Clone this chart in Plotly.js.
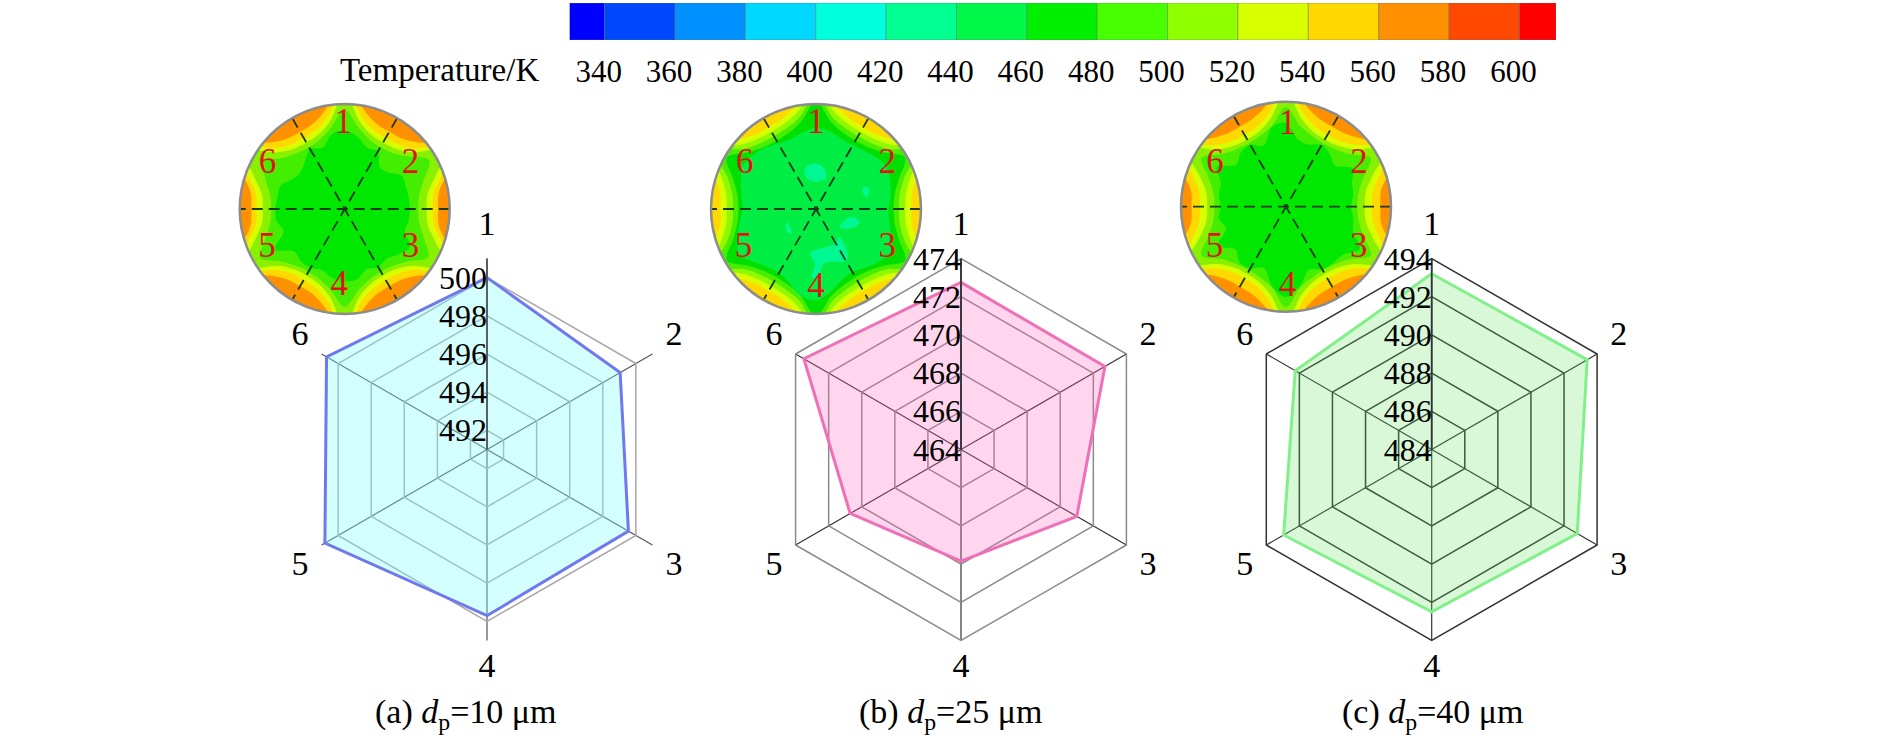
<!DOCTYPE html>
<html><head><meta charset="utf-8">
<script src="https://cdn.plot.ly/plotly-3.0.1.min.js"></script>
<style>html,body{margin:0;padding:0;background:#fff}#c{width:1890px;height:740px}</style></head>
<body><div id="c"></div>
<script>
const W=1890,H=740;
// colour scale
const scaleEdges=[330,340,360,380,400,420,440,460,480,500,520,540,560,580,600,610.4];
const scaleColors=['#0000ff','#0048ff','#0090ff','#00d8ff','#00ffdc','#00ff90','#00f848','#00f000','#48ff00','#90ff00','#d8ff00','#ffd800','#ff9000','#ff4800','#ff0000'];
const scaleTicks=[340,360,380,400,420,440,460,480,500,520,540,560,580,600];
// radar data
const probes=['1','2','3','4','5','6'];
const tempA=[500.0,499.05,499.55,499.7,500.8,500.7];
const tempB=[472.75,472.7,471.0,469.85,470.7,473.5];
const tempC=[493.2,493.4,492.8,492.5,492.95,492.25];
const ticksA=[492,494,496,498,500];
const ticksB=[464,466,468,470,472,474];
const ticksC=[484,486,488,490,492,494];
const rangeA=[491,501], rangeB=[464,474], rangeC=[484,494];
const probeLabelR=[.94,.918,.912,.898,.912,.918];
const probeLabelT=[0,58.1,121.3,180,238.7,301.9];
// contour outlines: radius (disc radius = 1) at each angle
const ang=[0,10,20,30,40,50,60,70,80,90,100,110,120,130,140,150,160,170,180,190,200,210,220,230,240,250,260,270,280,290,300,310,320,330,340,350];
const a1=[.62,.62,.62,.63,.54,.52,.63,.62,.70,.75,.72,.62,.66,.59,.55,.57,.65,.65,.66,.66,.62,.77,.63,.65,.65,.62,.67,.69,.68,.61,.64,.62,.67,.72,.61,.62];
const a2=[.70,.72,.80,.93,.78,.70,.68,.70,.78,.94,.78,.70,.68,.70,.76,.90,.80,.72,.70,.72,.80,.93,.78,.71,.69,.71,.78,.93,.78,.71,.69,.71,.78,.92,.80,.72];
const a3=[.78,.80,.92,1.12,.84,.75,.73,.75,.84,1.1,.84,.75,.73,.75,.84,1.1,.92,.80,.78,.80,.92,1.12,.84,.75,.73,.75,.84,1.1,.84,.75,.73,.75,.84,1.12,.92,.80];
const a4=[.84,.86,1.0,1.25,.90,.80,.78,.80,.90,1.2,.90,.80,.78,.80,.90,1.25,1.0,.86,.84,.86,1.0,1.25,.90,.80,.78,.80,.90,1.2,.90,.80,.78,.80,.90,1.25,1.0,.86];
const a5=[.89,.91,1.06,1.35,.98,.87,.85,.87,.98,1.3,.98,.87,.85,.87,.98,1.35,1.06,.91,.89,.91,1.06,1.35,.98,.87,.85,.87,.98,1.3,.98,.87,.85,.87,.98,1.35,1.06,.91];
const aBlobR=[.754,.706,.622,.602,.681], aBlobT=[149,143.4,145,152.6,154.5];
const b1=[.69,.72,.75,.78,.76,.72,.70,.71,.75,.77,.74,.71,.72,.76,.79,.81,.76,.72,.70,.74,.80,.85,.78,.72,.70,.75,.84,.87,.80,.72,.69,.73,.78,.82,.76,.71];
const b2=[.74,.76,.84,.98,.84,.77,.75,.77,.84,1.02,.84,.77,.75,.77,.84,.98,.84,.76,.74,.76,.84,.98,.84,.77,.75,.77,.84,1.02,.84,.77,.75,.77,.84,.98,.84,.76];
const b3=[.79,.81,.90,1.12,.89,.82,.80,.82,.89,1.12,.89,.82,.80,.82,.89,1.12,.90,.81,.79,.81,.90,1.12,.89,.82,.80,.82,.89,1.12,.89,.82,.80,.82,.89,1.12,.90,.81];
const b4=[.85,.87,.97,1.2,.95,.87,.85,.87,.95,1.2,.95,.87,.85,.87,.95,1.2,.97,.87,.85,.87,.97,1.2,.95,.87,.85,.87,.95,1.2,.95,.87,.85,.87,.95,1.2,.97,.87];
const b5=[.91,.93,1.05,1.3,1.02,.92,.90,.92,1.02,1.3,1.02,.92,.90,.92,1.02,1.3,1.05,.93,.91,.93,1.05,1.3,1.02,.92,.90,.92,1.02,1.3,1.02,.92,.90,.92,1.02,1.3,1.05,.93];
const bPatchR=[[.40,.437,.395,.306,.262,.325],[.497,.54,.50,.475],[.286,.336,.434,.40],[.302,.326,.352],[.427,.376,.342,.456,.57,.524,.647,.648,.519]];
const bPatchT=[[104.7,93,79,73,95,108],[25,21,13.6,16],[322,347,344,334],[203.6,225,218],[262.7,299,309,308,301,278,272,266.6,269]];
const c1=[.62,.65,.67,.73,.61,.65,.68,.63,.65,.80,.77,.62,.68,.67,.62,.76,.66,.65,.62,.65,.61,.75,.63,.69,.68,.62,.77,.86,.77,.64,.69,.70,.71,.81,.68,.65];
const c2=[.68,.70,.78,.93,.78,.72,.70,.72,.78,.95,.78,.72,.70,.72,.78,.93,.78,.70,.68,.70,.78,.93,.78,.72,.70,.72,.78,.96,.78,.72,.70,.72,.78,.93,.78,.70];
const c3=[.75,.77,.88,1.1,.85,.76,.74,.76,.85,1.1,.85,.76,.74,.76,.85,1.1,.88,.77,.75,.77,.88,1.1,.85,.76,.74,.76,.85,1.1,.85,.76,.74,.76,.85,1.1,.88,.77];
const c4=[.82,.84,.96,1.2,.91,.81,.79,.81,.91,1.2,.91,.81,.79,.81,.91,1.2,.96,.84,.82,.84,.96,1.2,.91,.81,.79,.81,.91,1.2,.91,.81,.79,.81,.91,1.2,.96,.84];
const c5=[.90,.92,1.08,1.3,1.0,.90,.88,.90,1.0,1.3,1.0,.90,.88,.90,1.0,1.3,1.08,.92,.90,.92,1.08,1.3,1.0,.90,.88,.90,1.0,1.3,1.0,.90,.88,.90,1.0,1.3,1.08,.92];
const colorsA=['#ff9000','#ffd800','#d8ff00','#88f000','#44ee00','#00e800'];
const colorsB=['#ffd800','#d8ff00','#90f800','#48ee00','#00e000','#00ee44'];
const colorsC=['#ff9000','#ffd800','#d8ff00','#88f000','#44ee00','#00e800'];
const patchColor='#00f894';
// red probe labels on the discs
const labelsA={r:[.81,.755,.73,.74,.83,.85],t:[91,34,329,266,207,150]};
const labelsB={r:[.81,.80,.775,.75,.787,.80],t:[90,32,331,270,208.5,148]};
const labelsC={r:[.78,.805,.80,.77,.787,.79],t:[89,30.4,330,271,210,149]};
const spokeR=[1,0,1], spokeT=[[0,0,180],[60,60,240],[120,120,300]];
const serif='Liberation Serif';

const dom=(cx,cy,r)=>({x:[(cx-r)/W,(cx+r)/W],y:[1-(cy+r)/H,1-(cy-r)/H]});
const close=a=>a.concat([a[0]]);
const traces=[];
function disc(sub,levels,colors){
  levels.forEach((lv,i)=>traces.push({type:'scatterpolar',subplot:sub,mode:'lines',r:close(lv),theta:close(ang),
    fill:'toself',fillcolor:colors[i+1],line:{width:0,shape:'spline',color:colors[i+1]},hoverinfo:'skip'}));
}
function discTop(sub,labels){
  spokeT.forEach(t=>traces.push({type:'scatterpolar',subplot:sub,mode:'lines',r:spokeR,theta:t,
    line:{color:'#1a3a1a',width:1.8,dash:'11px,6px'},hoverinfo:'skip'}));
  traces.push({type:'scatterpolar',subplot:sub,mode:'text',r:labels.r,theta:labels.t,text:probes,
    textfont:{family:serif,size:35,color:'#e01414'},textposition:'middle center',hoverinfo:'skip'});
}
disc('polar',[a5,a4,a3,a2,a1],colorsA);
traces.push({type:'scatterpolar',subplot:'polar',mode:'lines',r:close(aBlobR),theta:close(aBlobT),fill:'toself',fillcolor:colorsA[4],line:{width:0,shape:'spline'},hoverinfo:'skip'});
discTop('polar',labelsA);
disc('polar2',[b5,b4,b3,b2,b1],colorsB);
bPatchR.forEach((p,i)=>traces.push({type:'scatterpolar',subplot:'polar2',mode:'lines',r:close(p),theta:close(bPatchT[i]),fill:'toself',fillcolor:patchColor,line:{width:0,shape:'spline'},hoverinfo:'skip'}));
discTop('polar2',labelsB);
disc('polar3',[c5,c4,c3,c2,c1],colorsC);
discTop('polar3',labelsC);

function radar(sub,vals,line,fill,ticks,labelSub,tickSub){
  traces.push({type:'scatterpolar',subplot:sub,mode:'lines',r:close(vals),theta:close(probes),
    fill:'toself',fillcolor:fill,line:{color:line,width:3},hoverinfo:'skip'});
  traces.push({type:'scatterpolar',subplot:tickSub,mode:'text',r:ticks,theta:ticks.map(()=>0),text:ticks.map(String),cliponaxis:false,
    textfont:{family:serif,size:32,color:'#000'},textposition:'middle left',hoverinfo:'skip'});
  traces.push({type:'scatterpolar',subplot:labelSub,mode:'text',r:probeLabelR,theta:probeLabelT,text:probes,cliponaxis:false,
    textfont:{family:serif,size:34,color:'#000'},textposition:'middle center',hoverinfo:'skip'});
}
radar('polar4',tempA,'#7078f0','rgba(120,255,255,0.33)',ticksA,'polar7','polar10');
radar('polar5',tempB,'#f070b8','rgba(255,102,190,0.27)',ticksB,'polar8','polar11');
radar('polar6',tempC,'#80f088','rgba(90,225,90,0.24)',ticksC,'polar9','polar12');

traces.push({type:'bar',orientation:'h',y:scaleColors.map(()=>0),base:scaleEdges.slice(0,-1),
  x:scaleEdges.slice(1).map((e,i)=>e-scaleEdges[i]),width:1,marker:{color:scaleColors,line:{color:'rgba(90,110,110,0.45)',width:1}},hoverinfo:'skip'});

function discLayout(cx,cy,bg){
  return {domain:dom(cx,cy,105),bgcolor:bg,
    radialaxis:{visible:false,range:[0,1]},
    angularaxis:{showticklabels:false,ticks:'',showgrid:false,showline:true,linecolor:'#8c8c8c',linewidth:2.5,direction:'counterclockwise',rotation:0}};
}
function radarLayout(cx,cy,range,ticks,outer,grid,spoke){
  return {domain:dom(cx,cy,191),gridshape:'linear',bgcolor:'rgba(0,0,0,0)',
    radialaxis:{range:range,tickmode:'array',tickvals:ticks,angle:90,showticklabels:false,
      showline:true,linecolor:spoke,linewidth:1.8,ticks:'',showgrid:true,gridcolor:grid,gridwidth:1.5},
    angularaxis:{type:'category',categoryorder:'array',categoryarray:probes,direction:'clockwise',rotation:90,
      showline:outer,linecolor:grid,linewidth:1.5,showgrid:true,gridcolor:spoke,gridwidth:1.2,
      ticks:'',showticklabels:false}};
}
// invisible companion scales that hold the text
const hiddenAngular={showline:false,showgrid:false,ticks:'',showticklabels:false,direction:'clockwise',rotation:90};
function labelLayout(cx,cy){
  return {domain:dom(cx,cy+3,240),bgcolor:'rgba(0,0,0,0)',
    radialaxis:{visible:false,range:[0,1]},angularaxis:hiddenAngular};
}
// same scale as the radar (19.1 px per K) but starting 2 K lower, so the lowest tick is still in range
function tickLayout(cx,cy,range){
  return {domain:dom(cx,cy+3+2*19.1,12*19.1),bgcolor:'rgba(0,0,0,0)',
    radialaxis:{visible:false,range:[range[0]-2,range[1]]},angularaxis:hiddenAngular};
}
const capY=1-714/H;
const cap=(x,t)=>({xref:'paper',yref:'paper',x:x/W,y:capY,xanchor:'center',yanchor:'middle',showarrow:false,text:t,font:{family:serif,size:34,color:'#000'}});
const layout={width:W,height:H,margin:{l:0,r:0,t:0,b:0},paper_bgcolor:'#fff',plot_bgcolor:'#fff',showlegend:false,barmode:'overlay',
  polar:discLayout(344.7,209,colorsA[0]),
  polar2:discLayout(816,209,colorsB[0]),
  polar3:discLayout(1286,206.7,colorsC[0]),
  polar4:radarLayout(487,449.5,rangeA,ticksA,false,'#a8a8a8','#555'),
  polar5:radarLayout(961,449.5,rangeB,ticksB,true,'#8a8a8a','#333'),
  polar6:radarLayout(1431.7,449.5,rangeC,ticksC,true,'#333','#333'),
  polar7:labelLayout(487,449.5),
  polar8:labelLayout(961,449.5),
  polar9:labelLayout(1431.7,449.5),
  polar10:tickLayout(487,449.5,rangeA),
  polar11:tickLayout(961,449.5,rangeB),
  polar12:tickLayout(1431.7,449.5,rangeC),
  xaxis:{domain:[569.5/W,1556/W],range:[330,610.4],anchor:'y',tickmode:'array',tickvals:scaleTicks,ticktext:scaleTicks.map(String),ticks:'',ticklen:0,
    showgrid:false,zeroline:false,showline:false,tickfont:{family:serif,size:31,color:'#000'},ticklabelstandoff:10,ticklabelshift:-6},
  yaxis:{domain:[1-40/H,1-3/H],range:[-.5,.5],visible:false,fixedrange:true},
  annotations:[
    {xref:'paper',yref:'paper',x:439/W,y:1-70/H,xanchor:'center',yanchor:'middle',showarrow:false,text:'Temperature/K',font:{family:serif,size:33,color:'#000'}},
    cap(466,'(a) <i>d</i><sub>p</sub>=10 μm'),cap(950,'(b) <i>d</i><sub>p</sub>=25 μm'),cap(1433,'(c) <i>d</i><sub>p</sub>=40 μm')
  ]};
Plotly.newPlot('c',traces,layout,{displayModeBar:false,staticPlot:true});
</script></body></html>
